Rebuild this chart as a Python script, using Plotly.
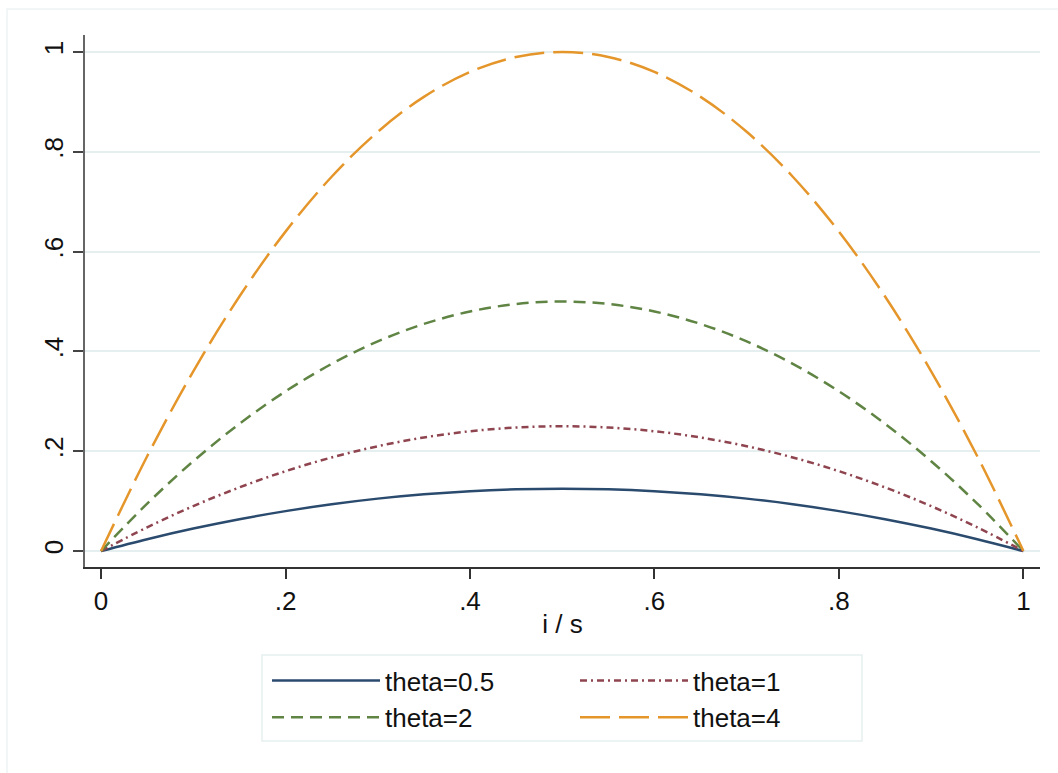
import plotly.graph_objects as go

# x values (i / s)
x_vals = [0.00, 0.05, 0.10, 0.15, 0.20, 0.25, 0.30, 0.35, 0.40, 0.45, 0.50,
          0.55, 0.60, 0.65, 0.70, 0.75, 0.80, 0.85, 0.90, 0.95, 1.00]

theta_05 = [0.0, 0.02375, 0.045, 0.06375, 0.08, 0.09375, 0.105, 0.11375, 0.12, 0.12375, 0.125,
            0.12375, 0.12, 0.11375, 0.105, 0.09375, 0.08, 0.06375, 0.045, 0.02375, 0.0]
theta_1 = [0.0, 0.0475, 0.09, 0.1275, 0.16, 0.1875, 0.21, 0.2275, 0.24, 0.2475, 0.25,
           0.2475, 0.24, 0.2275, 0.21, 0.1875, 0.16, 0.1275, 0.09, 0.0475, 0.0]
theta_2 = [0.0, 0.095, 0.18, 0.255, 0.32, 0.375, 0.42, 0.455, 0.48, 0.495, 0.5,
           0.495, 0.48, 0.455, 0.42, 0.375, 0.32, 0.255, 0.18, 0.095, 0.0]
theta_4 = [0.0, 0.19, 0.36, 0.51, 0.64, 0.75, 0.84, 0.91, 0.96, 0.99, 1.0,
           0.99, 0.96, 0.91, 0.84, 0.75, 0.64, 0.51, 0.36, 0.19, 0.0]

series_names = ["theta=0.5", "theta=1", "theta=2", "theta=4"]
series_values = [theta_05, theta_1, theta_2, theta_4]
series_colors = ["#2a4a6e", "#8f4550", "#5f8443", "#e5962b"]
series_dash = ["solid", "7px,4px,2px,4px", "12px,7px", "30px,9px"]
series_legend = ["legend", "legend2", "legend", "legend2"]  # two legend columns

tick_vals = [0, 0.2, 0.4, 0.6, 0.8, 1.0]
tick_text = ["0", ".2", ".4", ".6", ".8", "1"]

FONT = "Liberation Sans, Arial, Helvetica, sans-serif"

fig = go.Figure()
for name, vals, col, dash, lg in zip(series_names, series_values, series_colors,
                                     series_dash, series_legend):
    fig.add_trace(go.Scatter(
        x=x_vals, y=vals, mode="lines", name=name, legend=lg,
        line=dict(color=col, width=2.5, dash=dash, shape="spline"),
    ))

W, H = 1058, 773
L, R, T, B = 85, 18, 35, 206
pw = W - L - R
ph = H - T - B

def px_x(p):
    return (p - L) / pw

def px_y(p):
    return (H - B - p) / ph

legend_common = dict(
    orientation="v", yanchor="top", xanchor="left",
    borderwidth=0, bgcolor="rgba(0,0,0,0)",
    itemwidth=108, tracegroupgap=0, font=dict(size=26, color="#111111"),
)

fig.update_layout(
    width=W, height=H,
    margin=dict(l=L, r=R, t=T, b=B, autoexpand=False),
    paper_bgcolor="white", plot_bgcolor="white",
    font=dict(family=FONT, size=26, color="#111111"),
    xaxis=dict(
        range=[-0.0174, 1.018], tickvals=tick_vals, ticktext=tick_text,
        showgrid=False, zeroline=False, showline=True, linecolor="#333333", linewidth=2,
        ticks="outside", ticklen=10, tickwidth=2, tickcolor="#333333",
        title=dict(text="i / s", font=dict(size=26), standoff=0),
        tickfont=dict(size=26),
    ),
    yaxis=dict(
        range=[-0.032, 1.034], tickvals=tick_vals, ticktext=tick_text,
        showgrid=True, gridcolor="#e6eff0", gridwidth=2, zeroline=False,
        showline=True, linecolor="#666666", linewidth=2,
        ticks="outside", ticklen=10, tickwidth=2, tickcolor="#444444",
        tickangle=-90, tickfont=dict(size=26),
    ),
    legend=dict(x=px_x(267), y=px_y(657), **legend_common),
    legend2=dict(x=px_x(575), y=px_y(657), **legend_common),
    showlegend=True,
    shapes=[
        dict(type="rect", xref="paper", yref="paper",
             x0=px_x(7), x1=px_x(1080), y0=px_y(790), y1=px_y(9),
             line=dict(color="#eef3f3", width=1.5), fillcolor="rgba(0,0,0,0)", layer="below"),
        dict(type="rect", xref="paper", yref="paper",
             x0=px_x(262), x1=px_x(862), y0=px_y(741), y1=px_y(655),
             line=dict(color="#e6eff0", width=1.5), fillcolor="white", layer="below"),
    ],
)

fig.write_html("out.html")
